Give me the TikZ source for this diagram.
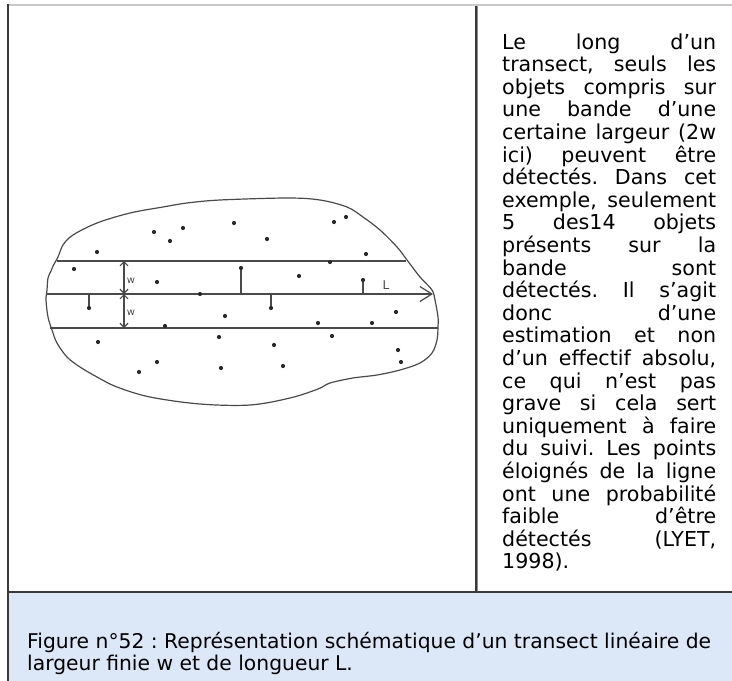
\documentclass[tikz,border=0pt]{standalone}
\usepackage{fontspec}
\setmainfont{DejaVu Sans}
\usetikzlibrary{arrows.meta}
\definecolor{capbg}{HTML}{DCE8F8}
\definecolor{topgray}{HTML}{C8C8C8}
\definecolor{framec}{HTML}{3A3A3A}
\definecolor{framel}{HTML}{8A8A8A}
\definecolor{ink}{HTML}{4A4A4A}
\definecolor{dotc}{HTML}{2A2A2A}
\newcommand\bodyfont{\fontsize{20.6}{23}\selectfont}
\newcommand\capfont{\fontsize{20.3}{22}\selectfont}
\frenchspacing
\tikzset{
  bodyline/.style={anchor=base west, inner sep=0pt, font=\bodyfont, text=black},
  capline/.style={anchor=base west, inner sep=0pt, font=\capfont, text=black},
  obj/.style={circle, fill=dotc, inner sep=0pt, minimum size=4.2pt},
  ink line/.style={draw=ink, line width=1.2pt},
  smallarrow/.style={ink line, {Straight Barb[length=4pt,width=8pt]}-{Straight Barb[length=4pt,width=8pt]}},
  lab/.style={inner sep=0pt, text=ink, font=\fontsize{10}{10}\selectfont}
}
\begin{document}
\frenchspacing
\begin{tikzpicture}[x=1pt,y=-1pt]
\useasboundingbox (0,0) rectangle (732,681);
% frame
\fill[capbg] (8,593) rectangle (732,681);
\draw[topgray, line width=2pt] (7,5) -- (732,5);
\draw[framec, line width=2pt] (8,4) -- (8,681);
\draw[framec, line width=2pt] (475.5,6) -- (475.5,592);
\draw[framel, line width=1.2pt] (477.6,6) -- (477.6,592);
\draw[framec, line width=2pt] (8,592) -- (732,592);

% blob outline
\draw[ink line, line join=round] plot[smooth cycle, tension=0.55] coordinates {
 (130,213) (163,207) (187,203) (220,200) (287,198) (320,200) (347,207) (363,217)
 (380,230) (397,247) (407,260) (420,277) (432,290) (435,300) (438,317) (438,327)
 (437,340) (432,353) (420,363) (400,370) (377,375) (353,378) (330,383) (318,389)
 (290,398) (250,405) (200,404) (150,397) (117,387) (97,377) (80,367) (67,357)
 (57,343) (52,330) (48,317) (46,300) (47,290) (48,278) (51,271) (53,266) (58,257)
 (63,245) (73,235) (97,223) };

% band lines
\coordinate (tl) at (57,261); \coordinate (tr) at (406,261);
\coordinate (ml) at (46,294); \coordinate (mr) at (433,294);
\coordinate (bl) at (50,328); \coordinate (br) at (438,328);
\draw[ink line] (tl) -- (tr);
\draw[ink line] (bl) -- (br);
\draw[ink line, -{Straight Barb[length=12pt,width=15pt]}] (ml) -- (mr);
\node[lab, font=\fontsize{12}{12}\selectfont] (L) at (386,285) {L};

% w arrows
\coordinate (wt) at (124,261); \coordinate (wm) at (124,294); \coordinate (wb) at (124,328);
\draw[smallarrow] (wt) -- (wm);
\draw[smallarrow] (wm) -- (wb);
\node[lab] (w1) at (131,281) {w};
\node[lab] (w2) at (131,313) {w};

% detected objects: perpendicular distances first, then dots
\coordinate (s1) at (241,268);
\coordinate (s2) at (89,308);
\coordinate (s3) at (363,280);
\coordinate (s4) at (271,308);
\draw[ink line] (s1) -- (s1 |- ml);
\draw[ink line] (s2) -- (s2 |- ml);
\draw[ink line] (s3) -- (s3 |- ml);
\draw[ink line] (s4) -- (s4 |- ml);
\node[obj] (d1) at (s1) {};
\node[obj] (d2) at (s2) {};
\node[obj] (d3) at (s3) {};
\node[obj] (d4) at (s4) {};

% other objects
\foreach \n/\p in {a/{154,232}, b/{183,228}, c/{170,241}, d/{234,223}, e/{97,252},
  f/{74,269}, g/{157,282}, h/{200,294}, i/{225,316}, j/{165,326}, k/{219,337},
  l/{98,342}, m/{157,362}, n/{139,372}, o/{221,368}, p/{334,222}, q/{346,217},
  r/{267,239}, s/{366,254}, t/{330,262}, u/{299,276}, v/{396,312}, x/{318,323},
  y/{372,323}, z/{332,336}, aa/{274,345}, ab/{398,350}, ac/{401,362}, ad/{283,366}}
  \node[obj] (o\n) at (\p) {};

% body text
\foreach \i/\t in {
 1/{Le long d’un},
 2/{transect, seuls les},
 3/{objets compris sur},
 4/{une bande d’une},
 5/{certaine largeur (2w},
 6/{ici) peuvent être},
 7/{détectés. Dans cet},
 8/{exemple, seulement},
 9/{5 des14 objets},
 10/{présents sur la},
 11/{bande sont},
 12/{détectés. Il s’agit},
 13/{donc d’une},
 14/{estimation et non},
 15/{d’un effectif absolu,},
 16/{ce qui n’est pas},
 17/{grave si cela sert},
 18/{uniquement à faire},
 19/{du suivi. Les points},
 20/{éloignés de la ligne},
 21/{ont une probabilité},
 22/{faible d’être},
 23/{détectés (LYET,}}
  \node[bodyline] (body\i) at (502,{49+22.6*(\i-1)}) {\makebox[214pt][s]{\t}};
\node[bodyline] (body24) at (502,{49+22.6*23}) {1998).};

% caption
\node[capline] (cap1) at (27,648) {Figure n°52 : Représentation schématique d’un transect linéaire de};
\node[capline] (cap2) at (27,670) {largeur finie w et de longueur L.};
\end{tikzpicture}
\end{document}
